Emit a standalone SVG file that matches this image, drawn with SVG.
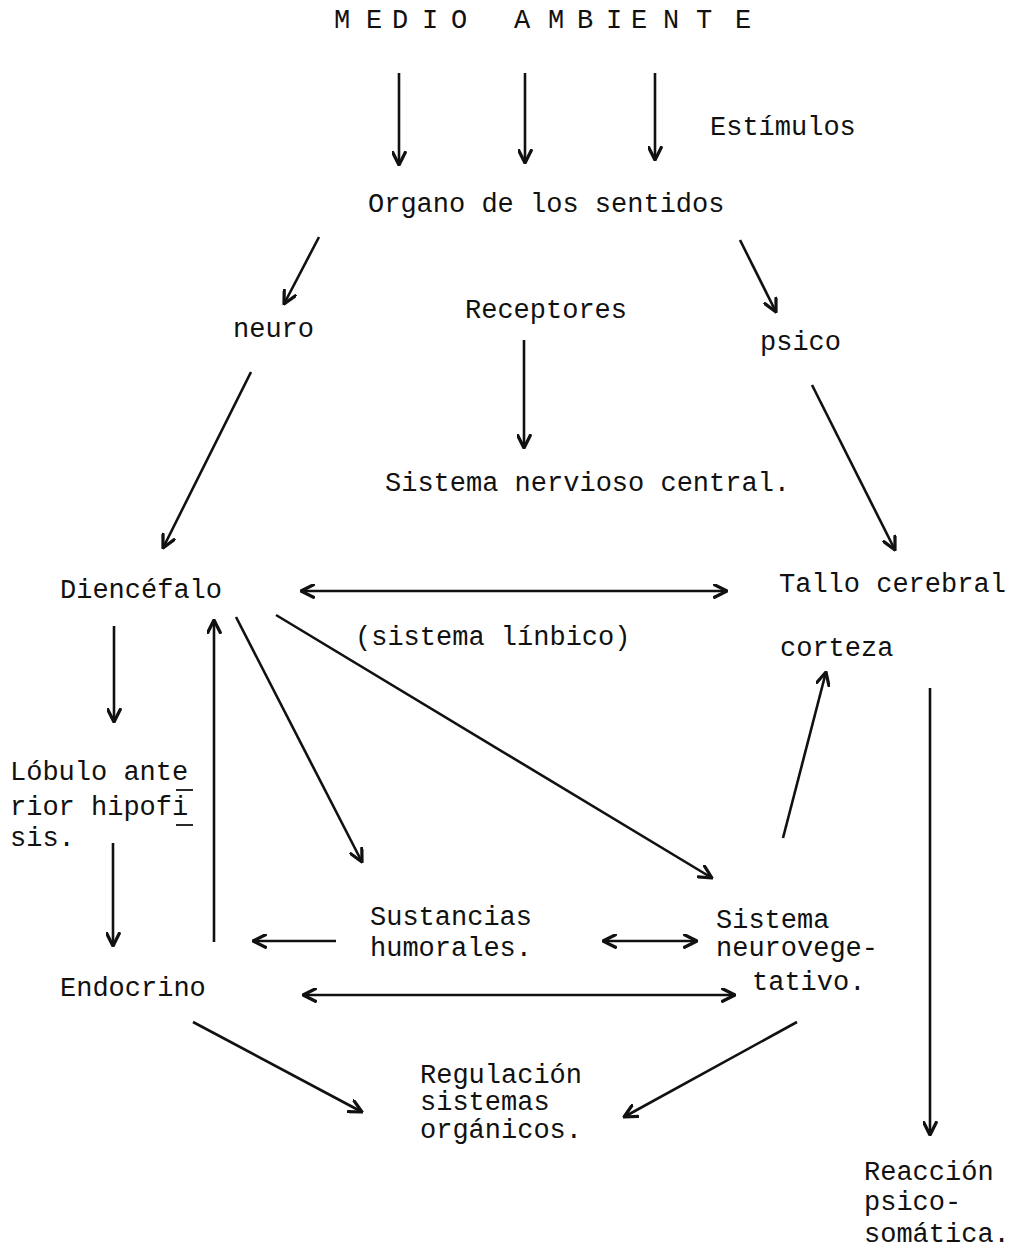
<svg xmlns="http://www.w3.org/2000/svg" width="1012" height="1249" viewBox="0 0 1012 1249">
<style>
text{font-family:"Liberation Mono","Courier New",monospace;font-size:27px;fill:#111}
.c line{stroke:#111;stroke-width:2.6;fill:none}
.u{stroke:#111;stroke-width:1.8}
</style>
<defs>
<marker id="ah" viewBox="0 0 12 12" refX="11" refY="6" markerWidth="15" markerHeight="15" markerUnits="userSpaceOnUse" orient="auto-start-reverse">
<path d="M1,1 L11,6 L1,11" fill="none" stroke="#111" stroke-width="2.6" stroke-linejoin="round" stroke-linecap="round"/>
</marker>
</defs>
<rect width="1012" height="1249" fill="#fff"/>
<g id="medio-ambiente"><text x="334 366 392 422 451 514 548 577 606 631 663 696 735" y="28">MEDIOAMBIENTE</text></g>
<g id="estimulos"><text x="710" y="135">Estímulos</text></g>
<g id="organo"><text x="368" y="212">Organo de los sentidos</text></g>
<g id="neuro"><text x="233" y="337">neuro</text></g>
<g id="receptores"><text x="465" y="318">Receptores</text></g>
<g id="psico"><text x="760" y="350">psico</text></g>
<g id="snc"><text x="385" y="491">Sistema nervioso central.</text></g>
<g id="diencefalo"><text x="60" y="598">Diencéfalo</text></g>
<g id="tallo"><text x="779" y="592">Tallo cerebral</text></g>
<g id="limbico"><text x="355" y="645">(sistema línbico)</text></g>
<g id="corteza"><text x="780" y="656">corteza</text></g>
<g id="lobulo">
<text x="10" y="780">Lóbulo ante</text>
<text x="10" y="815">rior hipofi</text>
<text x="10" y="846">sis.</text>
<line class="u" x1="176" y1="790" x2="193" y2="790"/>
<line class="u" x1="176" y1="825" x2="193" y2="825"/>
</g>
<g id="sustancias"><text x="370" y="925">Sustancias</text><text x="370" y="956">humorales.</text></g>
<g id="neurovegetativo"><text x="716" y="928">Sistema</text><text x="716" y="956">neurovege-</text><text x="752" y="990">tativo.</text></g>
<g id="endocrino"><text x="60" y="996">Endocrino</text></g>
<g id="regulacion"><text x="420" y="1083">Regulación</text><text x="420" y="1110">sistemas</text><text x="420" y="1138">orgánicos.</text></g>
<g id="reaccion"><text x="864" y="1180">Reacción</text><text x="864" y="1210">psico-</text><text x="864" y="1242">somática.</text></g>
<g class="c" id="connectors">
<line x1="399" y1="73" x2="399" y2="165" marker-end="url(#ah)"/>
<line x1="525" y1="73" x2="525" y2="163" marker-end="url(#ah)"/>
<line x1="655" y1="73" x2="655" y2="160" marker-end="url(#ah)"/>
<line x1="319" y1="237" x2="284" y2="304" marker-end="url(#ah)"/>
<line x1="740" y1="240" x2="776" y2="312" marker-end="url(#ah)"/>
<line x1="524" y1="340" x2="524" y2="448" marker-end="url(#ah)"/>
<line x1="251" y1="372" x2="163" y2="548" marker-end="url(#ah)"/>
<line x1="812" y1="385" x2="895" y2="550" marker-end="url(#ah)"/>
<line x1="301" y1="591" x2="727" y2="591" marker-start="url(#ah)" marker-end="url(#ah)"/>
<line x1="114" y1="626" x2="114" y2="722" marker-end="url(#ah)"/>
<line x1="113" y1="843" x2="113" y2="946" marker-end="url(#ah)"/>
<line x1="214" y1="942" x2="214" y2="620" marker-end="url(#ah)"/>
<line x1="236" y1="617" x2="362" y2="862" marker-end="url(#ah)"/>
<line x1="276" y1="615" x2="712" y2="878" marker-end="url(#ah)"/>
<line x1="783" y1="838" x2="826" y2="672" marker-end="url(#ah)"/>
<line x1="930" y1="688" x2="930" y2="1135" marker-end="url(#ah)"/>
<line x1="336" y1="941" x2="253" y2="941" marker-end="url(#ah)"/>
<line x1="603" y1="941" x2="697" y2="941" marker-start="url(#ah)" marker-end="url(#ah)"/>
<line x1="303" y1="995" x2="735" y2="995" marker-start="url(#ah)" marker-end="url(#ah)"/>
<line x1="193" y1="1022" x2="362" y2="1112" marker-end="url(#ah)"/>
<line x1="797" y1="1022" x2="624" y2="1117" marker-end="url(#ah)"/>
</g>
</svg>
